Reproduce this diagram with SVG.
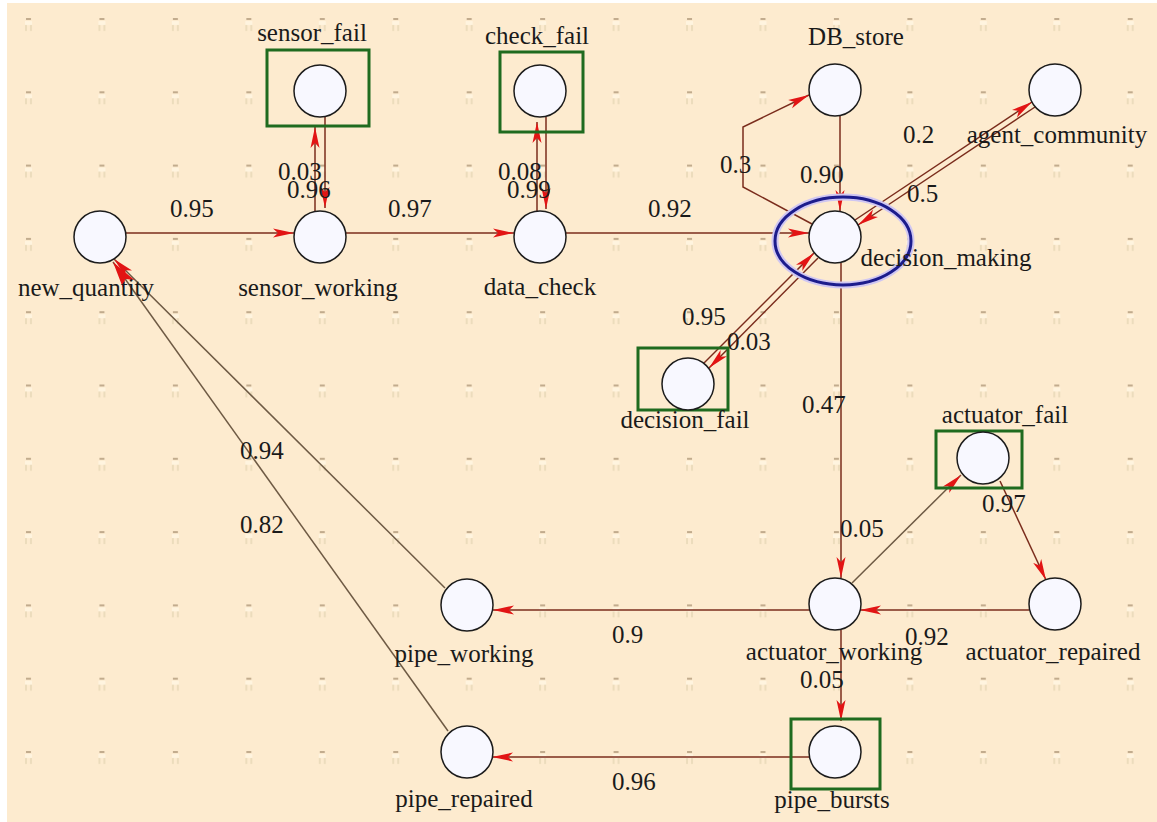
<svg xmlns="http://www.w3.org/2000/svg" width="1157" height="822" viewBox="0 0 1157 822">
<defs>
<style>
.bg{fill:#fdebcf}
.n{fill:#f8f8ff;stroke:#1c1c1c;stroke-width:1.5}
.box{fill:none;stroke:#1f6b1f;stroke-width:3}
.lbl{font-family:"Liberation Serif","Times New Roman",serif;font-size:25px;fill:#1a1a1a}
.c{text-anchor:middle}
.e{fill:none;stroke:#7a2c1c;stroke-width:1.5}
.e2{fill:none;stroke:#6e5a44;stroke-width:1.5}
</style>
<marker id="ah" markerWidth="24" markerHeight="12" refX="21" refY="6" orient="auto" markerUnits="userSpaceOnUse">
<path d="M0,1.5 L21,6 L0,10.5 L5,6 Z" fill="#e21414"/>
</marker>
<marker id="ahb" markerWidth="30" markerHeight="18" refX="27" refY="9" orient="auto" markerUnits="userSpaceOnUse">
<path d="M0,2 L27,9 L0,16 L6,9 Z" fill="#e21414"/>
</marker>
<pattern id="grid" x="24" y="17" width="73.45" height="73.3" patternUnits="userSpaceOnUse">
<rect x="2" y="1" width="5" height="2" fill="#9a8060" opacity="0.6"/>
<rect x="1" y="4" width="7" height="4" fill="#fff6e4" opacity="0.8"/>
<rect x="1" y="8" width="2" height="6" fill="#ecdcbc"/>
<rect x="6" y="8" width="2" height="6" fill="#ecdcbc"/>
</pattern>
</defs>
<rect x="0" y="0" width="1157" height="822" fill="#ffffff"/>
<rect class="bg" x="7" y="3" width="1150" height="819"/>
<rect x="7" y="3" width="1150" height="819" fill="url(#grid)"/>

<g id="connectors">
<line class="e" x1="126" y1="233" x2="294" y2="233" marker-end="url(#ah)"/>
<line class="e" x1="346" y1="233" x2="514" y2="233" marker-end="url(#ah)"/>
<line class="e" x1="566" y1="233" x2="809" y2="233" marker-end="url(#ah)"/>
<line class="e" x1="315" y1="212" x2="315" y2="127" marker-end="url(#ah)"/>
<line class="e" x1="325" y1="117" x2="325" y2="208" marker-end="url(#ah)"/>
<line class="e" x1="537" y1="212" x2="537" y2="122" marker-end="url(#ah)"/>
<line class="e" x1="546" y1="117" x2="546" y2="209" marker-end="url(#ah)"/>
<polyline class="e" points="812,224 743,187 743,127 809,95" marker-end="url(#ah)"/>
<line class="e" x1="840" y1="116" x2="840" y2="211" marker-end="url(#ah)"/>
<line class="e" x1="855" y1="220" x2="1032" y2="102" marker-end="url(#ah)"/>
<line class="e" x1="1035" y1="107" x2="858" y2="225" marker-end="url(#ah)"/>
<line class="e" x1="818" y1="258" x2="709" y2="368" marker-end="url(#ah)"/>
<line class="e" x1="704" y1="363" x2="814" y2="253" marker-end="url(#ah)"/>
<line class="e" x1="841" y1="263" x2="841" y2="578" marker-end="url(#ah)"/>
<line class="e2" x1="852" y1="583" x2="961" y2="475" marker-end="url(#ah)"/>
<line class="e" x1="1000" y1="481" x2="1046" y2="580" marker-end="url(#ah)"/>
<line class="e" x1="1029" y1="610" x2="860" y2="610" marker-end="url(#ah)"/>
<line class="e" x1="810" y1="610" x2="493" y2="610" marker-end="url(#ah)"/>
<line class="e" x1="841" y1="630" x2="841" y2="721" marker-end="url(#ah)"/>
<line class="e" x1="809" y1="757" x2="492" y2="757" marker-end="url(#ah)"/>
<line class="e2" x1="445" y1="588" x2="114" y2="259" marker-end="url(#ah)"/>
<line class="e2" x1="448" y1="731" x2="113" y2="262" marker-end="url(#ahb)"/>
</g>

<g id="edge-labels" class="lbl">
<text x="170" y="217">0.95</text>
<text x="388" y="217">0.97</text>
<text x="648" y="217">0.92</text>
<text x="278" y="180">0.03</text>
<text x="287" y="198">0.96</text>
<text x="498" y="180">0.08</text>
<text x="507" y="198">0.99</text>
<text x="720" y="173">0.3</text>
<text x="800" y="183">0.90</text>
<text x="903" y="143">0.2</text>
<text x="907" y="202">0.5</text>
<text x="682" y="325">0.95</text>
<text x="727" y="350">0.03</text>
<text x="802" y="413">0.47</text>
<text x="240" y="459">0.94</text>
<text x="240" y="533">0.82</text>
<text x="840" y="537">0.05</text>
<text x="982" y="512">0.97</text>
<text x="905" y="645">0.92</text>
<text x="800" y="688">0.05</text>
<text x="612" y="643">0.9</text>
<text x="612" y="790">0.96</text>
</g>

<g id="new_quantity"><circle class="n" cx="100" cy="237" r="26"/><text class="lbl c" x="86" y="296">new_quantity</text></g>
<g id="sensor_working"><circle class="n" cx="320" cy="237" r="26"/><text class="lbl c" x="318" y="296">sensor_working</text></g>
<g id="data_check"><circle class="n" cx="540" cy="237" r="26"/><text class="lbl c" x="540" y="295">data_check</text></g>
<g id="sensor_fail"><rect class="box" x="267" y="50" width="102" height="76"/><circle class="n" cx="320" cy="91" r="26"/><text class="lbl c" x="312" y="41">sensor_fail</text></g>
<g id="check_fail"><rect class="box" x="500" y="52" width="83" height="80"/><circle class="n" cx="540" cy="91" r="26"/><text class="lbl c" x="537" y="44">check_fail</text></g>
<g id="DB_store"><circle class="n" cx="835" cy="90" r="26"/><text class="lbl c" x="856" y="45">DB_store</text></g>
<g id="agent_community"><circle class="n" cx="1055" cy="90" r="26"/><text class="lbl c" x="1057" y="143">agent_community</text></g>
<g id="decision_making"><ellipse cx="843" cy="241" rx="68" ry="44" fill="none" stroke="#cfc6f2" stroke-width="7"/><ellipse cx="843" cy="241" rx="68" ry="44" fill="none" stroke="#1c1c8c" stroke-width="3"/><circle class="n" cx="835" cy="237" r="26"/><text class="lbl c" x="946" y="266">decision_making</text></g>
<g id="decision_fail"><rect class="box" x="638" y="348" width="90" height="62"/><circle class="n" cx="688" cy="384" r="26"/><text class="lbl c" x="685" y="428">decision_fail</text></g>
<g id="actuator_fail"><rect class="box" x="936" y="431" width="86" height="57"/><circle class="n" cx="983" cy="458" r="26"/><text class="lbl c" x="1005" y="423">actuator_fail</text></g>
<g id="actuator_working"><circle class="n" cx="835" cy="604" r="26"/><text class="lbl c" x="834" y="660">actuator_working</text></g>
<g id="actuator_repaired"><circle class="n" cx="1055" cy="604" r="26"/><text class="lbl c" x="1053" y="660">actuator_repaired</text></g>
<g id="pipe_working"><circle class="n" cx="467" cy="605" r="26"/><text class="lbl c" x="464" y="662">pipe_working</text></g>
<g id="pipe_bursts"><rect class="box" x="791" y="719" width="89" height="70"/><circle class="n" cx="835" cy="752" r="26"/><text class="lbl c" x="832" y="808">pipe_bursts</text></g>
<g id="pipe_repaired"><circle class="n" cx="467" cy="752" r="26"/><text class="lbl c" x="464" y="807">pipe_repaired</text></g>
</svg>
